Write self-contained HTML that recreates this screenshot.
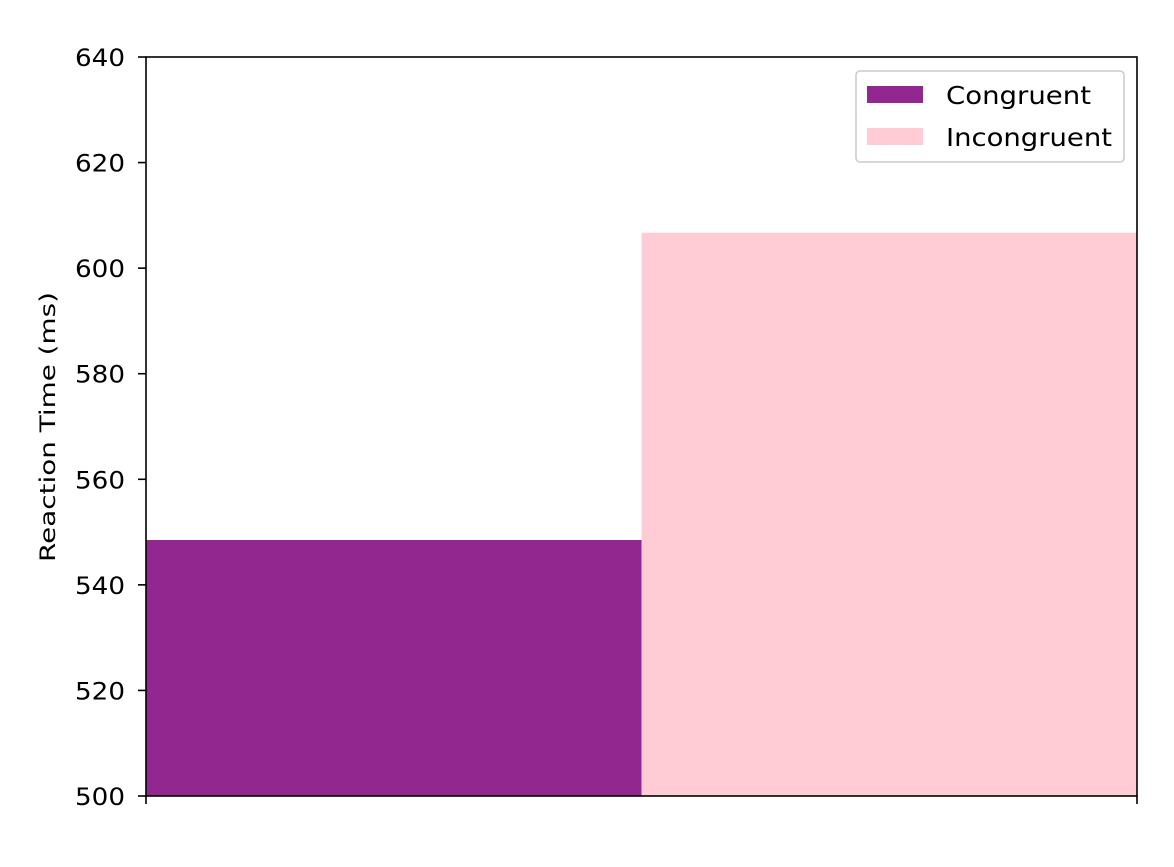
<!DOCTYPE html>
<html><head><meta charset="utf-8"><style>
body{margin:0;background:#fff;}
svg text{font-family:"DejaVu Sans","Liberation Sans",sans-serif;fill:#000;}
</style></head><body>
<svg id="chart" width="1174" height="862" xmlns="http://www.w3.org/2000/svg">
<g id="bars"></g>
<g id="yaxis"></g>
<rect x="146" y="57" width="991" height="739" fill="none" stroke="#000" stroke-width="1.6"/>
<line x1="146" y1="796" x2="146" y2="804" stroke="#000" stroke-width="1.6"/>
<line x1="1137" y1="796" x2="1137" y2="804" stroke="#000" stroke-width="1.6"/>
<text x="55" y="427" font-size="21.5" text-anchor="middle" textLength="270" lengthAdjust="spacingAndGlyphs" transform="rotate(-90 55 427)">Reaction Time (ms)</text>
<g>
<rect x="856" y="71" width="268" height="91" rx="4" fill="#fff" stroke="#ccc" stroke-width="1.6"/>
<rect x="867" y="86" width="56" height="17" fill="#92278f"/>
<text x="946" y="104" font-size="25" textLength="145" lengthAdjust="spacingAndGlyphs">Congruent</text>
<rect x="867" y="128" width="56" height="17" fill="#ffccd5"/>
<text x="946" y="146" font-size="25" textLength="166" lengthAdjust="spacingAndGlyphs">Incongruent</text>
</g>
</svg>
<script>
const categories=["Congruent","Incongruent"];
const values=[548.5,606.7];
const colors=["#92278f","#ffccd5"];
const yTicks=[500,520,540,560,580,600,620,640];
const NS="http://www.w3.org/2000/svg";
const x0=146,x1=1137,yTop=57,yBot=796,yMin=500,yMax=640;
function ys(v){return yBot-(v-yMin)/(yMax-yMin)*(yBot-yTop);}
function xs(i){return x0+i*(x1-x0)/categories.length;}
const bars=document.getElementById('bars');
categories.forEach((c,i)=>{
 const r=document.createElementNS(NS,'rect');
 r.setAttribute('x',xs(i));r.setAttribute('width',xs(i+1)-xs(i));
 r.setAttribute('y',ys(values[i]));r.setAttribute('height',yBot-ys(values[i]));
 r.setAttribute('fill',colors[i]);
 
 
 bars.appendChild(r);
});
const ya=document.getElementById('yaxis');
yTicks.forEach(t=>{
 const l=document.createElementNS(NS,'line');
 l.setAttribute('x1',138);l.setAttribute('x2',146);l.setAttribute('y1',ys(t));l.setAttribute('y2',ys(t));
 l.setAttribute('stroke','#000');l.setAttribute('stroke-width','1.6');
 
 
 ya.appendChild(l);
 const tx=document.createElementNS(NS,'text');
 tx.setAttribute('x',125);tx.setAttribute('y',ys(t)+9);tx.setAttribute('font-size','24');tx.setAttribute('text-anchor','end');
 tx.setAttribute('textLength','50');tx.setAttribute('lengthAdjust','spacingAndGlyphs');
 tx.textContent=t;
 
 
 ya.appendChild(tx);
});
</script>
</body></html>
